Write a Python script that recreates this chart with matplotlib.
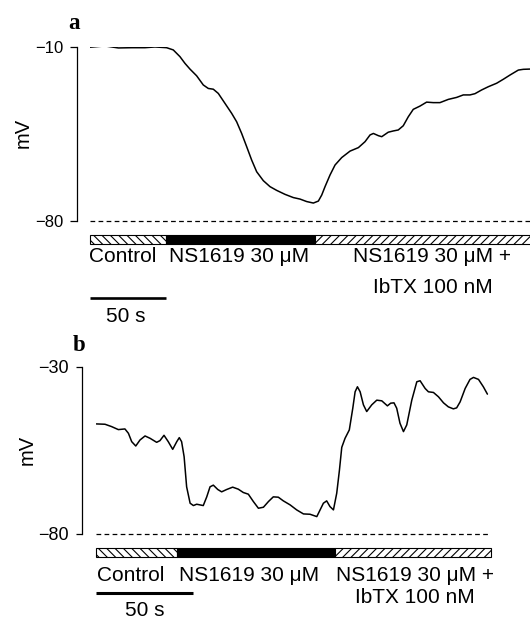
import matplotlib
matplotlib.use("Agg")
import matplotlib.pyplot as plt
from matplotlib.patches import Rectangle
from matplotlib.transforms import Affine2D, blended_transform_factory

# ---------------- data ----------------
# Panel a: membrane potential (mV) vs time (s)
time_a = [0.0, 10.0, 18.8, 27.6, 36.3, 42.9, 50.6, 55.0, 59.4, 62.7, 66.0, 70.4,
          74.8, 78.1, 81.4, 84.7, 89.1, 93.5, 96.8, 100.1, 103.4, 106.7, 110.0,
          114.4, 118.8, 123.2, 128.7, 134.2, 138.6, 143.0, 147.4, 150.7, 152.9,
          155.1, 158.4, 161.7, 166.1, 171.6, 177.1, 181.5, 184.8, 187.0, 190.3,
          192.5, 196.8, 200.1, 203.4, 206.7, 210.0, 213.3, 217.7, 222.1, 226.5,
          230.9, 236.4, 241.9, 246.3, 250.7, 254.0, 258.4, 262.8, 268.3, 272.7,
          277.1, 282.6, 285.9, 290.3]
volt_a = [-10.2, -9.7, -10.5, -10.4, -10.4, -10.1, -10.4, -11.3, -14.0, -16.7,
          -19.0, -21.7, -25.4, -26.8, -27.1, -28.8, -32.8, -36.8, -40.2, -44.9,
          -50.2, -55.6, -60.3, -63.9, -66.3, -67.8, -69.4, -70.7, -71.3, -72.3,
          -72.9, -72.1, -69.7, -66.3, -61.6, -57.6, -54.6, -52.0, -50.6, -48.2,
          -45.5, -44.9, -45.8, -46.2, -44.4, -43.9, -43.5, -41.8, -38.2, -35.2,
          -33.9, -32.3, -32.5, -32.5, -31.2, -30.4, -29.4, -29.4, -28.9, -27.4,
          -26.1, -24.7, -23.1, -21.4, -19.4, -19.1, -19.0]

# Panel b
time_b = [0.0, 4.5, 7.9, 11.4, 14.8, 16.6, 18.3, 20.4, 22.6, 25.2, 27.8, 31.2,
          32.9, 35.0, 37.2, 39.5, 41.6, 42.9, 44.1, 45.4, 46.7, 48.5, 50.2, 51.9,
          53.6, 55.3, 57.1, 58.8, 60.5, 62.8, 64.8, 67.4, 70.5, 73.4, 76.0, 78.6,
          81.2, 83.8, 86.4, 89.0, 91.5, 94.1, 96.7, 100.2, 103.6, 107.1, 110.5,
          114.0, 117.4, 119.1, 120.8, 122.6, 124.3, 125.7, 126.9, 128.6, 130.8,
          132.6, 133.8, 135.0, 136.4, 138.1, 139.8, 142.4, 145.0, 147.6, 150.5,
          152.2, 153.9, 155.3, 157.0, 158.8, 160.5, 163.1, 165.7, 167.4, 170.0,
          171.7, 174.3, 176.9, 179.5, 182.0, 184.6, 186.3, 188.1, 190.7, 193.2,
          195.0, 197.6, 200.1, 202.2]
volt_b = [-47.1, -47.2, -47.9, -48.8, -48.6, -49.9, -52.4, -53.7, -51.9, -50.7,
          -51.4, -52.6, -52.1, -50.5, -52.4, -54.7, -52.4, -51.2, -52.4, -56.9,
          -65.9, -70.8, -71.5, -71.1, -71.3, -71.5, -68.9, -65.9, -65.4, -66.7,
          -67.4, -66.7, -66.0, -66.6, -67.6, -68.1, -70.3, -72.3, -72.0, -70.3,
          -68.9, -69.0, -70.1, -71.3, -72.8, -74.0, -74.1, -74.8, -70.8, -70.1,
          -71.8, -72.8, -67.8, -60.9, -54.1, -51.4, -48.9, -42.4, -37.5, -36.0,
          -37.5, -41.4, -43.4, -41.4, -40.0, -40.2, -41.7, -40.9, -40.8, -42.4,
          -46.9, -49.4, -47.4, -40.0, -34.5, -34.2, -36.5, -37.5, -37.7, -39.0,
          -40.8, -42.0, -42.6, -42.3, -40.5, -36.5, -33.8, -33.2, -33.8, -36.0,
          -38.2]

# Protocol segments (start, end in s)
segments_a = [(0.0, 50.0), (50.0, 148.7), (148.7, 300.0)]
segments_b = [(0.0, 41.8), (41.8, 123.3), (123.3, 203.9)]
segment_hatch = ['\\\\\\\\', None, '////']
segment_fill = ['white', 'black', 'white']
segment_labels = ['Control', 'NS1619 30 μM', 'NS1619 30 μM +\nIbTX 100 nM']

yticks_a = [-80, -10]
yticks_b = [-80, -30]
ytick_labels_a = ['\u221280', '\u221210']
ytick_labels_b = ['\u221280', '\u221230']
reference_level = -80
scale_bar_s = 50

# ---------------- figure ----------------
W, H = 530, 620
plt.rcParams['font.family'] = ['Liberation Sans', 'DejaVu Sans']
plt.rcParams['hatch.linewidth'] = 0.8
plt.rcParams['lines.scale_dashes'] = False

fig = plt.figure(figsize=(W / 100, H / 100), dpi=100)
px = Affine2D().scale(1.0 / W, -1.0 / H).translate(0, 1) + fig.transFigure


def axes_px(x0, x1, y0, y1):
    return fig.add_axes([x0 / W, 1 - y1 / H, (x1 - x0) / W, (y1 - y0) / H])


def ftext(x, y, s, **kw):
    fig.text(x / W, 1 - y / H, s, **kw)


def panel(ax, t, v, xlim, ylim, yticks, yticklabels, segments, bar_y, bar_h,
          scale_y, scale_lw, dash_end, spine_out, tick_len, tick_fs):
    ax.plot(t, v, color='black', lw=1.1, solid_joinstyle='round',
            solid_capstyle='round')
    ax.set_xlim(*xlim)
    ax.set_ylim(*ylim)
    for s in ['top', 'right', 'bottom']:
        ax.spines[s].set_visible(False)
    ax.spines['left'].set_position(('outward', spine_out))
    ax.spines['left'].set_linewidth(0.9)
    ax.set_xticks([])
    ax.set_yticks(yticks)
    ax.set_yticklabels(yticklabels, fontsize=tick_fs)
    ax.tick_params(axis='y', direction='out', length=tick_len, width=0.9,
                   pad=5.2)
    ax.patch.set_visible(False)
    ax.plot([0, dash_end], [reference_level, reference_level], color='black',
            lw=0.9, dashes=(3.4, 2.4), clip_on=False)
    tr = blended_transform_factory(ax.transData, px)
    for (s0, s1), hatch, fc in zip(segments, segment_hatch, segment_fill):
        ax.add_patch(Rectangle((s0, bar_y), s1 - s0, bar_h, transform=tr,
                               facecolor=fc, edgecolor='black', lw=0.8,
                               hatch=hatch, clip_on=False))
    ax.plot([0, scale_bar_s], [scale_y, scale_y], transform=tr, color='black',
            lw=scale_lw, solid_capstyle='butt', clip_on=False)


label_fs = 15
# Panel a
ax_a = axes_px(89.9, 530.0, 46.7, 220.7)
panel(ax_a, time_a, volt_a, (0, 290.3), (-80, -10), yticks_a, ytick_labels_a,
      segments_a, 235.0, 9.3, 298.3, 1.9, 300.0, 9.1, 4.75, 12)
ftext(74, 29, 'a', family='Liberation Serif', fontweight='bold', fontsize=16.5,
      ha='center', va='baseline')
ftext(23.5, 133, 'mV', fontsize=14.5, rotation=90, ha='center', va='center')
ftext(88.6, 261.5, segment_labels[0], fontsize=label_fs, ha='left', va='baseline')
ftext(169, 261.5, segment_labels[1], fontsize=label_fs, ha='left', va='baseline')
ftext(432, 261.5, segment_labels[2].split('\n')[0], fontsize=label_fs,
      ha='center', va='baseline')
ftext(433, 293.3, segment_labels[2].split('\n')[1], fontsize=label_fs,
      ha='center', va='baseline')
ftext(125.5, 321.7, f'{scale_bar_s} s', fontsize=label_fs, ha='center',
      va='baseline')

# Panel b
ax_b = axes_px(96.3, 490.7, 366.7, 534.0)
panel(ax_b, time_b, volt_b, (0, 203.9), (-80, -30), yticks_b, ytick_labels_b,
      segments_b, 547.7, 9.0, 593.3, 2.2, 202.5, 10.6, 4.3, 13)
ftext(78.6, 350.7, 'b', family='Liberation Serif', fontweight='bold',
      fontsize=16.5, ha='center', va='baseline')
ftext(27, 450, 'mV', fontsize=14.5, rotation=90, ha='center', va='center')
ftext(97, 580.7, segment_labels[0], fontsize=label_fs, ha='left', va='baseline')
ftext(179.2, 580.7, segment_labels[1], fontsize=label_fs, ha='left', va='baseline')
ftext(414.6, 580.7, segment_labels[2].split('\n')[0], fontsize=label_fs,
      ha='center', va='baseline')
ftext(414.6, 602.7, segment_labels[2].split('\n')[1], fontsize=label_fs,
      ha='center', va='baseline')
ftext(145, 619.5, f'{scale_bar_s} s', fontsize=label_fs, ha='center',
      va='bottom')

fig.savefig('out.png', dpi=100, facecolor='white')
